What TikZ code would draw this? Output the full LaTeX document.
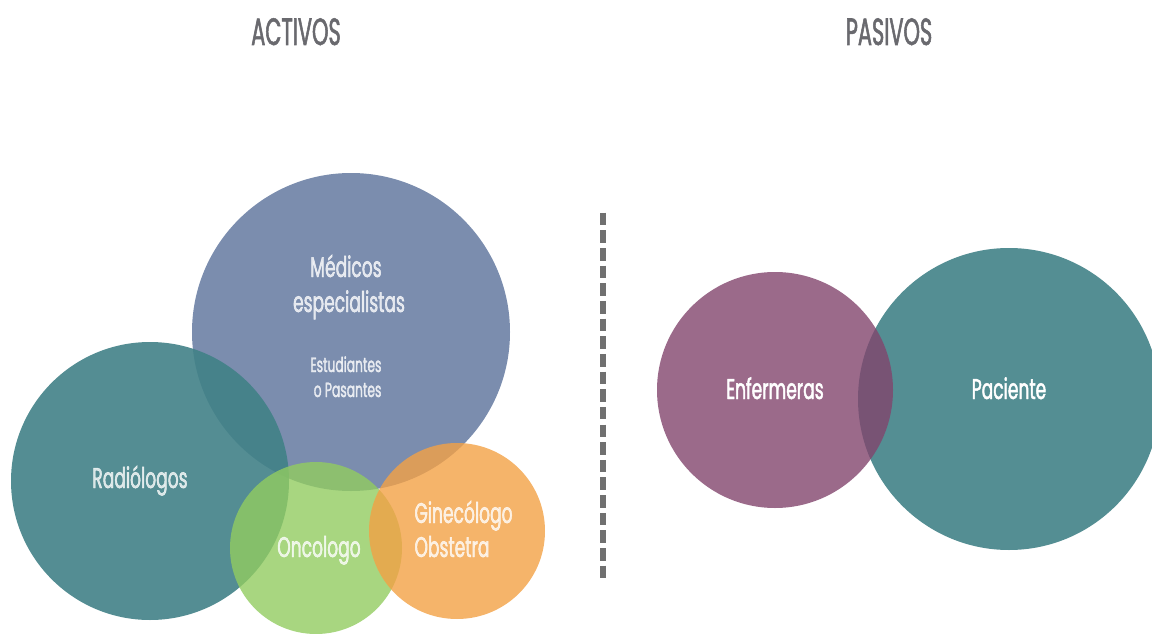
\documentclass[tikz,border=0pt]{standalone}
\usepackage{fontspec}
\newfontfamily\labelfont{Poppins}[FakeStretch=0.6, FakeBold=1.6]
\newfontfamily\headfont{Poppins}[FakeStretch=0.55, FakeBold=1.4]
\definecolor{medcol}{RGB}{123,141,174}
\definecolor{radcol}{RGB}{65,129,135}
\definecolor{oncol}{RGB}{146,204,96}
\definecolor{gincol}{RGB}{243,161,69}
\definecolor{enfcol}{RGB}{130,69,109}
\definecolor{paccol}{RGB}{84,142,147}
\definecolor{headcol}{RGB}{105,105,110}
\definecolor{dashcol}{RGB}{112,112,112}
\tikzset{
  bubble/.style={circle, inner sep=0pt, draw=none},
  heading/.style={font=\headfont\fontsize{38}{40}\selectfont, text=headcol, anchor=base},
  biglabel/.style={font=\labelfont\fontsize{28.5}{34}\selectfont, text=white, text opacity=0.78, anchor=base},
  smalllabel/.style={font=\labelfont\fontsize{20.5}{25}\selectfont, text=white, text opacity=0.78, anchor=base east},
}
\begin{document}
\begin{tikzpicture}[x=1pt,y=-1pt]
\useasboundingbox (0,0) rectangle (1152,634);
\clip (0,0) rectangle (1152,634);

% headings
\node[heading] (activos) at (296,45) {ACTIVOS};
\node[heading] (pasivos) at (889,45) {PASIVOS};

% active group
\node[bubble, fill=medcol, minimum size=318pt] (medicos) at (351,332) {};
\node[bubble, fill=radcol, fill opacity=0.9, minimum size=278pt] (radiologos) at (150,481) {};
\node[bubble, fill=oncol, fill opacity=0.8, minimum size=172pt] (oncologo) at (316,548) {};
\node[bubble, fill=gincol, fill opacity=0.8, minimum size=176pt] (ginecologo) at (457,531) {};

\node[biglabel] (tmed1) at (346,277) {Médicos};
\node[biglabel] (tmed2) at (349,312) {especialistas};
\node[smalllabel] (test1) at (385,372) {Estudiantes};
\node[smalllabel] (test2) at (385,397) {o Pasantes};
\node[biglabel] (trad) at (140,488) {Radiólogos};
\node[biglabel] (tonc) at (319,557) {Oncologo};
\node[biglabel, anchor=base west] (tgin1) at (411,523) {Ginecólogo};
\node[biglabel, anchor=base west] (tgin2) at (411,557) {Obstetra};

% separator
\coordinate (septop) at (603,212.7);
\coordinate (sepbot) at (603,578.5);
\draw[dashcol, line width=6pt, dash pattern=on 12.6pt off 5.05pt] (septop) -- (sepbot);

% passive group
\node[bubble, fill=paccol, minimum size=302pt] (paciente) at (1009,399) {};
\node[bubble, fill=enfcol, fill opacity=0.8, minimum size=236pt] (enfermeras) at (775,390) {};

\node[biglabel, text opacity=1] (tenf) at (775,399) {Enfermeras};
\node[biglabel, text opacity=1] (tpac) at (1009,399) {Paciente};
\end{tikzpicture}
\end{document}
